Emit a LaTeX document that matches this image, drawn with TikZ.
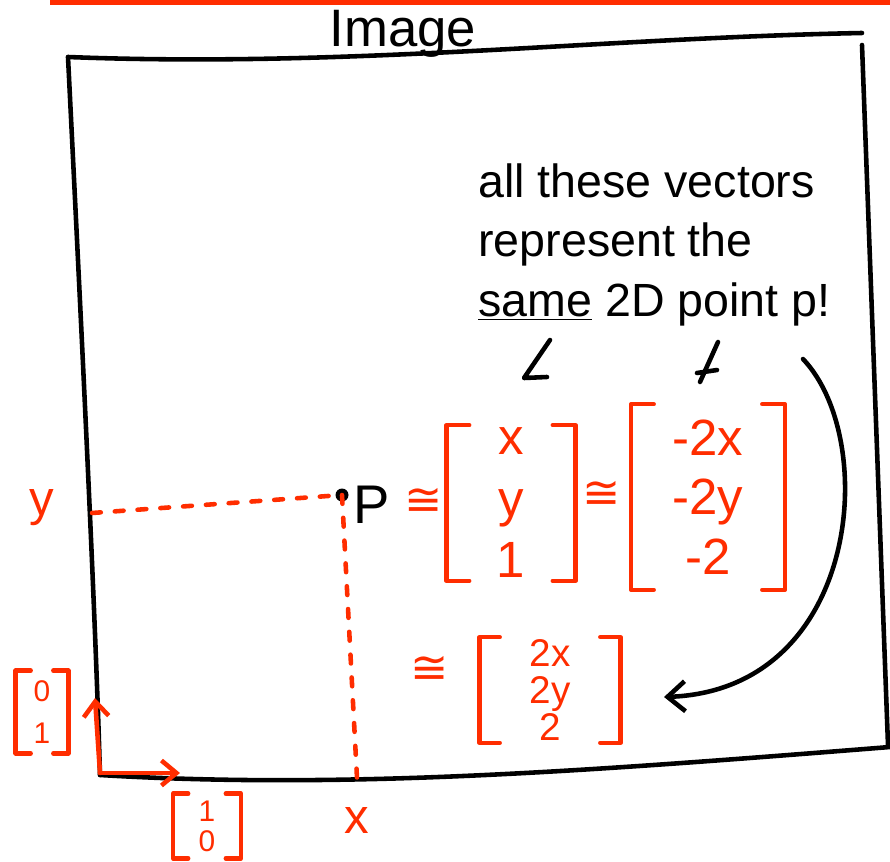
\documentclass[tikz,border=0pt]{standalone}
\usepackage{fontspec}
\setmainfont{Liberation Sans}
\newfontfamily\symfont{DejaVu Sans}
\usepackage{xcolor}
\usepackage{tikz}
\usetikzlibrary{arrows.meta}
\tikzset{
  pen/.style={line width=2.6pt, line cap=round, line join=round, draw=ink},
  redpen/.style={line width=2.6pt, line cap=round, line join=round, draw=marker},
  guide/.style={redpen, dash pattern=on 5pt off 8pt},
  vec/.style={text=marker, align=center, inner sep=0pt},
  lab/.style={text=marker, font=\fontsize{28}{30}\selectfont, inner sep=0pt},
  eqv/.style={text=marker, font=\symfont\fontsize{26}{28}\selectfont, inner sep=0pt},
  note/.style={font=\fontsize{26.5}{34}\selectfont, align=left, inner sep=0pt},
  dot/.style={circle, fill=ink, inner sep=0pt, minimum size=2.6mm},
  arr/.style={pen, -{Straight Barb[length=3.5mm, width=6mm]}},
  redarr/.style={redpen, -{Straight Barb[length=3mm, width=5mm]}},
}
\definecolor{marker}{HTML}{FF2D00}
\definecolor{ink}{HTML}{000000}
\newcommand{\vecbrackets}[2]{%
  \draw[redpen] ([xshift=#2]#1.north west) -- (#1.north west) -- (#1.south west) -- ([xshift=#2]#1.south west);
  \draw[redpen] ([xshift=-#2]#1.north east) -- (#1.north east) -- (#1.south east) -- ([xshift=-#2]#1.south east);}

\begin{document}
\begin{tikzpicture}[x=0.02cm, y=-0.02cm]
  \useasboundingbox (0,0) rectangle (890,862);
  \fill[marker] (50,0) rectangle (890,5);
  \node[font=\fontsize{30}{34}\selectfont, inner sep=0pt] (title) at (403,34) {Image};
  \draw[pen] (68,57) .. controls (350,68) and (600,38) .. (862,33);
  \draw[pen] (862,45) -- (888,745);
  \draw[pen] (68,57) .. controls (80,300) and (95,600) .. (100,775);
  \draw[pen] (100,775) .. controls (350,790) and (600,770) .. (890,747);

  \node[dot] (p) at (342,495) {};
  \node[font=\fontsize{31}{34}\selectfont, inner sep=0pt] (plabel) at (372,505) {P};
  \coordinate (yax) at (92,513);
  \coordinate (xax) at (357,778);
  \draw[guide] (yax) -- (p.center);
  \draw[guide] (p.center) -- (xax);
  \node[lab] (ylabel) at (42,508) {y};
  \node[lab] (xlabel) at (357,820) {x};

  \coordinate (o) at (100,773);
  \coordinate (ex) at (180,773);
  \coordinate (ey) at (95,698);
  \draw[redarr] (o) -- (ey);
  \draw[redarr] (o) -- (ex);
  \node[vec, font=\fontsize{17}{24}\selectfont, minimum width=1.04cm, minimum height=1.64cm] (e2) at (42,712) {0\\1};
  \node[vec, font=\fontsize{17}{17}\selectfont, minimum width=1.34cm, minimum height=1.28cm] (e1) at (207,826) {1\\0};
  \vecbrackets{e2}{3mm}
  \vecbrackets{e1}{3mm}

  \node[eqv] (eq1) at (424,502) {≅};
  \node[vec, font=\fontsize{29}{35}\selectfont, minimum width=2.56cm, minimum height=3.1cm] (v1) at (511,503) {x\\y\\1};
  \node[eqv] (eq2) at (602,495) {≅};
  \node[vec, font=\fontsize{29}{34}\selectfont, minimum width=3.06cm, minimum height=3.7cm] (v2) at (708,497) {-2x\\-2y\\-2};
  \node[eqv] (eq3) at (430,670) {≅};
  \node[vec, font=\fontsize{22}{21}\selectfont, minimum width=2.8cm, minimum height=2.1cm] (v3) at (550,690) {2x\\2y\\2};
  \vecbrackets{v1}{4.5mm}
  \vecbrackets{v2}{4.5mm}
  \vecbrackets{v3}{4mm}

  \node[note, anchor=north west] (note) at (478,163) {all these vectors\\represent the\\\underline{same} 2D point p!};
  \draw[pen] (550,340) -- (524,378) -- (547,377);
  \draw[pen] (718,342) -- (700,382);
  \draw[pen] (697,373) -- (717,370);
  \coordinate (bend) at (803,359);
  \coordinate (tip) at (664,697);
  \draw[arr] (bend) .. controls (880,440) and (860,690) .. (tip);
\end{tikzpicture}
\end{document}
